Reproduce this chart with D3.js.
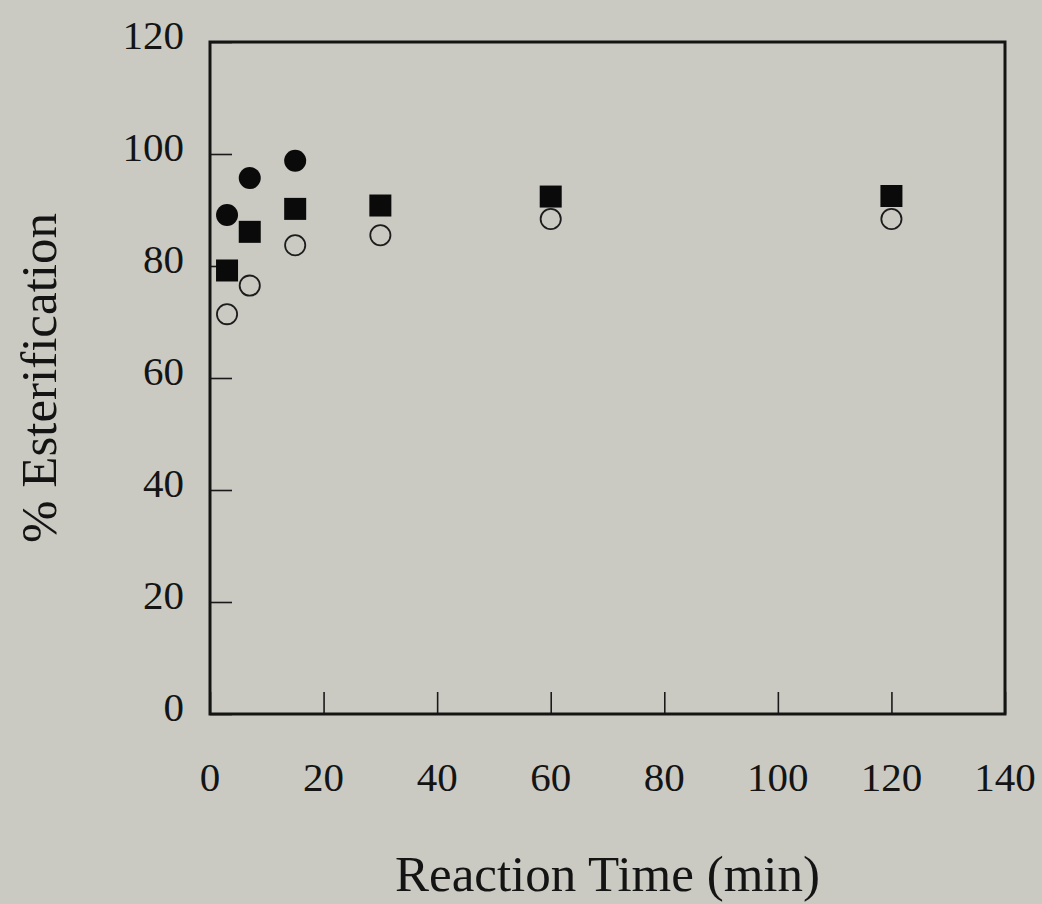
<!DOCTYPE html>
<html>
<head>
<meta charset="utf-8">
<script src="https://cdn.jsdelivr.net/npm/d3@7"></script>
<style>
  html, body { margin: 0; padding: 0; background: #cacac2; }
  svg { display: block; }
  text { font-family: "Liberation Serif", "Times New Roman", serif; fill: #141414; }
</style>
</head>
<body>
<div id="chart"></div>
<script>
// ---- data ----
const xTicks = [0, 20, 40, 60, 80, 100, 120, 140];
const yTicks = [0, 20, 40, 60, 80, 100, 120];

const timesFilled = [3, 7, 15];
const filledCircle = [89.1, 95.7, 98.8];

const timesAll = [3, 7, 15, 30, 60, 120];
const filledSquare = [79.2, 86.1, 90.2, 90.8, 92.4, 92.5];
const openCircle = [71.4, 76.5, 83.7, 85.5, 88.4, 88.4];

const xTitle = "Reaction Time (min)";
const yTitle = "% Esterification";

// ---- layout ----
const W = 1042, H = 904;
const plot = { left: 210, right: 1005, top: 42, bottom: 714 };
const tickLen = 22;

const svg = d3.select("#chart").append("svg")
  .attr("width", W).attr("height", H);

svg.append("rect").attr("width", W).attr("height", H).attr("fill", "#cacac2");

const x = d3.scaleLinear().domain([0, 140]).range([plot.left, plot.right]);
const y = d3.scaleLinear().domain([0, 120]).range([plot.bottom, plot.top]);

// ticks (inward), bottom and left only
svg.append("g")
  .attr("transform", `translate(0,${plot.bottom})`)
  .call(d3.axisBottom(x).tickValues(xTicks).tickSize(-tickLen).tickFormat(""))
  .call(g => g.select(".domain").remove())
  .call(g => g.selectAll("line").attr("stroke", "#1a1a1a").attr("stroke-width", 1.6));

svg.append("g")
  .attr("transform", `translate(${plot.left},0)`)
  .call(d3.axisLeft(y).tickValues(yTicks).tickSize(-tickLen).tickFormat(""))
  .call(g => g.select(".domain").remove())
  .call(g => g.selectAll("line").attr("stroke", "#1a1a1a").attr("stroke-width", 1.6));

// frame
svg.append("rect")
  .attr("x", plot.left).attr("y", plot.top)
  .attr("width", plot.right - plot.left)
  .attr("height", plot.bottom - plot.top)
  .attr("fill", "none")
  .attr("stroke", "#141414")
  .attr("stroke-width", 3);

// tick labels
svg.append("g").selectAll("text")
  .data(xTicks).join("text")
  .attr("x", d => x(d))
  .attr("y", 791)
  .attr("text-anchor", "middle")
  .style("font-size", "41px")
  .text(d => d);

svg.append("g").selectAll("text")
  .data(yTicks).join("text")
  .attr("x", 184)
  .attr("y", d => y(d) + 7)
  .attr("text-anchor", "end")
  .style("font-size", "41px")
  .text(d => d);

// axis titles
svg.append("text")
  .attr("x", (plot.left + plot.right) / 2)
  .attr("y", 891)
  .attr("text-anchor", "middle")
  .style("font-size", "51px")
  .text(xTitle);

svg.append("text")
  .attr("transform", `translate(56,${(plot.top + plot.bottom) / 2}) rotate(-90)`)
  .attr("text-anchor", "middle")
  .style("font-size", "51px")
  .text(yTitle);

// markers
const r = 11, side = 22;

svg.append("g").selectAll("circle")
  .data(timesAll.map((t, i) => [t, openCircle[i]]))
  .join("circle")
  .attr("cx", d => x(d[0]))
  .attr("cy", d => y(d[1]))
  .attr("r", r - 0.9)
  .attr("fill", "none")
  .attr("stroke", "#1c1c1c")
  .attr("stroke-width", 1.8);

svg.append("g").selectAll("rect")
  .data(timesAll.map((t, i) => [t, filledSquare[i]]))
  .join("rect")
  .attr("x", d => x(d[0]) - side / 2)
  .attr("y", d => y(d[1]) - side / 2)
  .attr("width", side)
  .attr("height", side)
  .attr("fill", "#0a0a0a");

svg.append("g").selectAll("circle")
  .data(timesFilled.map((t, i) => [t, filledCircle[i]]))
  .join("circle")
  .attr("cx", d => x(d[0]))
  .attr("cy", d => y(d[1]))
  .attr("r", r)
  .attr("fill", "#0a0a0a");
</script>
</body>
</html>
